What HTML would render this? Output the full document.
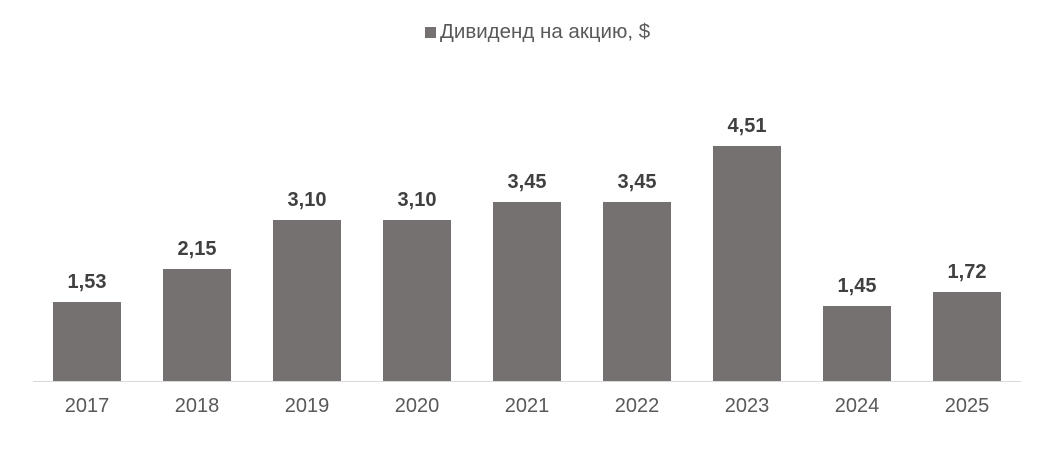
<!DOCTYPE html>
<html><head><meta charset="utf-8"><style>
html,body{margin:0;padding:0;background:#fff;}
body{width:1050px;height:475px;position:relative;overflow:hidden;font-family:"Liberation Sans",Arial,sans-serif;}
.bar{position:absolute;width:68px;background:#767171;}
.v{position:absolute;width:110px;text-align:center;font-weight:bold;font-size:20px;color:#404040;}
.y{position:absolute;width:110px;text-align:center;font-size:20px;color:#595959;top:395px;}
</style></head><body>
<div style="position:absolute;left:425px;top:27px;width:11px;height:11px;background:#767171"></div>
<div style="position:absolute;left:440px;top:20px;font-size:20.5px;color:#595959">Дивиденд на акцию, $</div>
<div style="position:absolute;left:33px;top:381px;width:988px;height:1px;background:#d9d9d9"></div>
<div class="bar" style="left:53px;top:302px;height:79px"></div><div class="v" style="left:32px;top:271px">1,53</div><div class="y" style="left:32px">2017</div>
<div class="bar" style="left:163px;top:269px;height:112px"></div><div class="v" style="left:142px;top:238px">2,15</div><div class="y" style="left:142px">2018</div>
<div class="bar" style="left:273px;top:220px;height:161px"></div><div class="v" style="left:252px;top:189px">3,10</div><div class="y" style="left:252px">2019</div>
<div class="bar" style="left:383px;top:220px;height:161px"></div><div class="v" style="left:362px;top:189px">3,10</div><div class="y" style="left:362px">2020</div>
<div class="bar" style="left:493px;top:202px;height:179px"></div><div class="v" style="left:472px;top:171px">3,45</div><div class="y" style="left:472px">2021</div>
<div class="bar" style="left:603px;top:202px;height:179px"></div><div class="v" style="left:582px;top:171px">3,45</div><div class="y" style="left:582px">2022</div>
<div class="bar" style="left:713px;top:146px;height:235px"></div><div class="v" style="left:692px;top:115px">4,51</div><div class="y" style="left:692px">2023</div>
<div class="bar" style="left:823px;top:306px;height:75px"></div><div class="v" style="left:802px;top:275px">1,45</div><div class="y" style="left:802px">2024</div>
<div class="bar" style="left:933px;top:292px;height:89px"></div><div class="v" style="left:912px;top:261px">1,72</div><div class="y" style="left:912px">2025</div>
</body></html>
